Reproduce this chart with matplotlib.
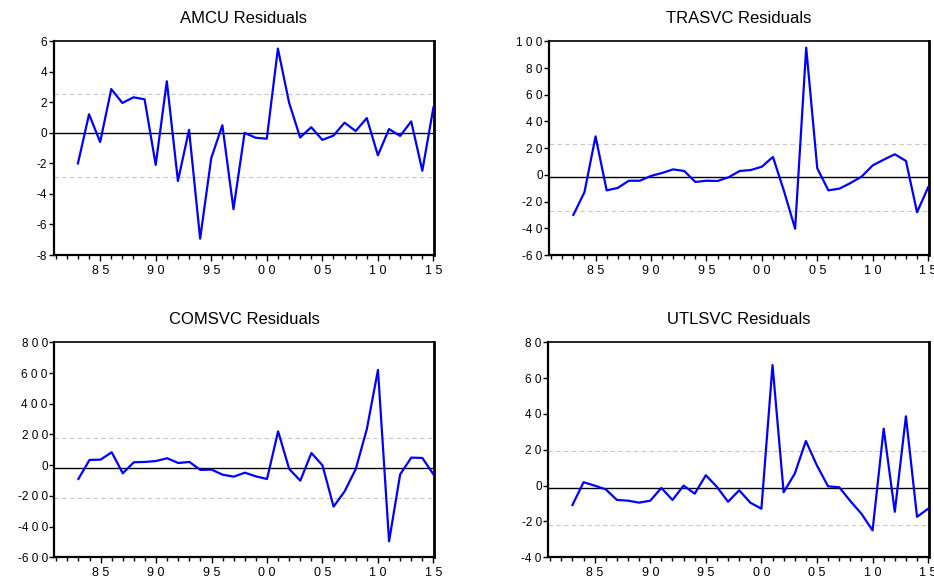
import matplotlib
matplotlib.use("Agg")
import matplotlib.pyplot as plt
from matplotlib.ticker import FixedLocator, FuncFormatter

plt.rcParams["font.family"] = ["Liberation Sans", "DejaVu Sans"]

# dane - lata 1983-2015
years = list(range(1983, 2016))

amcu = [-2.0, 1.22, -0.6, 2.87, 1.96, 2.33, 2.2, -2.1, 3.38, -3.15, 0.2,
        -6.93, -1.65, 0.5, -5.0, 0.0, -0.32, -0.38, 5.52, 2.0, -0.3, 0.37,
        -0.46, -0.18, 0.67, 0.12, 0.97, -1.47, 0.25, -0.2, 0.75, -2.48, 1.67]
trasvc = [-30.0, -12.9, 28.8, -11.6, -9.8, -4.4, -4.4, -0.8, 1.4, 4.1, 2.9,
          -5.3, -4.4, -4.6, -1.8, 2.9, 3.6, 6.1, 13.4, -12.2, -40.3, 95.2,
          4.9, -11.6, -10.3, -6.1, -1.3, 7.1, 11.4, 15.4, 10.4, -28.0, -9.3]
comsvc = [-90, 34, 36, 84, -53, 19, 21, 27, 45, 14, 21, -31, -29, -62, -75,
          -49, -73, -90, 220, -25, -101, 79, -1, -270, -170, -25, 236, 620,
          -496, -60, 49, 47, -60]
utlsvc = [-10.8, 1.9, 0.0, -2.1, -8.0, -8.4, -9.5, -8.4, -1.3, -8.0, 0.0,
          -4.5, 5.8, -0.7, -9.0, -2.6, -9.5, -12.9, 67.3, -3.7, 6.7, 24.9,
          11.2, -0.4, -0.9, -8.6, -15.7, -25.0, 31.8, -14.6, 38.7, -17.4, -12.9]

titles = ["AMCU Residuals", "TRASVC Residuals", "COMSVC Residuals", "UTLSVC Residuals"]
# linia srodkowa i +/- odchylenie (przerywane)
center_lines = [0.0, -1.85, -20, -1.5]
upper_lines = [2.57, 23.4, 175, 19.3]
lower_lines = [-2.91, -26.8, -216, -22.2]
y_ticks = [list(range(-8, 7, 2)), list(range(-60, 101, 20)),
           list(range(-600, 801, 200)), list(range(-40, 81, 20))]
x_major = [1985, 1990, 1995, 2000, 2005, 2010, 2015]


def spaced(s):
    sign = ""
    if s.startswith("-"):
        sign, s = "-", s[1:]
    return sign + " ".join(s)


def year_label(v, p):
    return spaced("%02d" % (int(round(v)) % 100))


fig = plt.figure(figsize=(9.34, 5.78), dpi=100)
W, H = 934, 578
boxes = [(53.5, 41.3, 434, 255), (549, 41.3, 928.7, 255),
         (54, 342.3, 434, 557.3), (548, 342.3, 928.7, 557.3)]
series = [amcu, trasvc, comsvc, utlsvc]

for i in range(4):
    l, t, r, b = boxes[i]
    ax = fig.add_axes([l / W, 1 - b / H, (r - l) / W, (b - t) / H])
    ax.plot(years, series[i], color=(0, 0, 1), lw=1.6, zorder=3)
    ax.axhline(center_lines[i], color="black", lw=1.0, zorder=2)
    ax.axhline(upper_lines[i], color="#c8c8c8", lw=0.8, ls=(0, (4, 3)), zorder=1)
    ax.axhline(lower_lines[i], color="#c8c8c8", lw=0.8, ls=(0, (4, 3)), zorder=1)

    ax.set_xlim(1980.8, 2015.05)
    ax.set_ylim(y_ticks[i][0], y_ticks[i][-1])
    ax.yaxis.set_major_locator(FixedLocator(y_ticks[i]))
    ax.yaxis.set_major_formatter(FuncFormatter(lambda v, p: spaced(str(int(round(v))))))
    ax.xaxis.set_major_locator(FixedLocator(x_major))
    ax.xaxis.set_minor_locator(FixedLocator(range(1981, 2016)))
    ax.xaxis.set_major_formatter(FuncFormatter(year_label))

    ax.tick_params(axis="y", direction="out", length=3.5, width=1.0, labelsize=8.5, pad=1)
    ax.tick_params(axis="x", which="both", direction="out", length=3, width=1.0, labelsize=9, pad=3)
    ax.tick_params(axis="x", which="major", length=4)
    ax.spines["left"].set_linewidth(1.6)
    ax.spines["bottom"].set_linewidth(1.6)
    ax.spines["right"].set_linewidth(2.0)
    ax.spines["top"].set_linewidth(1.2)
    ax.set_title(titles[i], fontsize=12, pad=13)

fig.savefig("out.png", dpi=100)
